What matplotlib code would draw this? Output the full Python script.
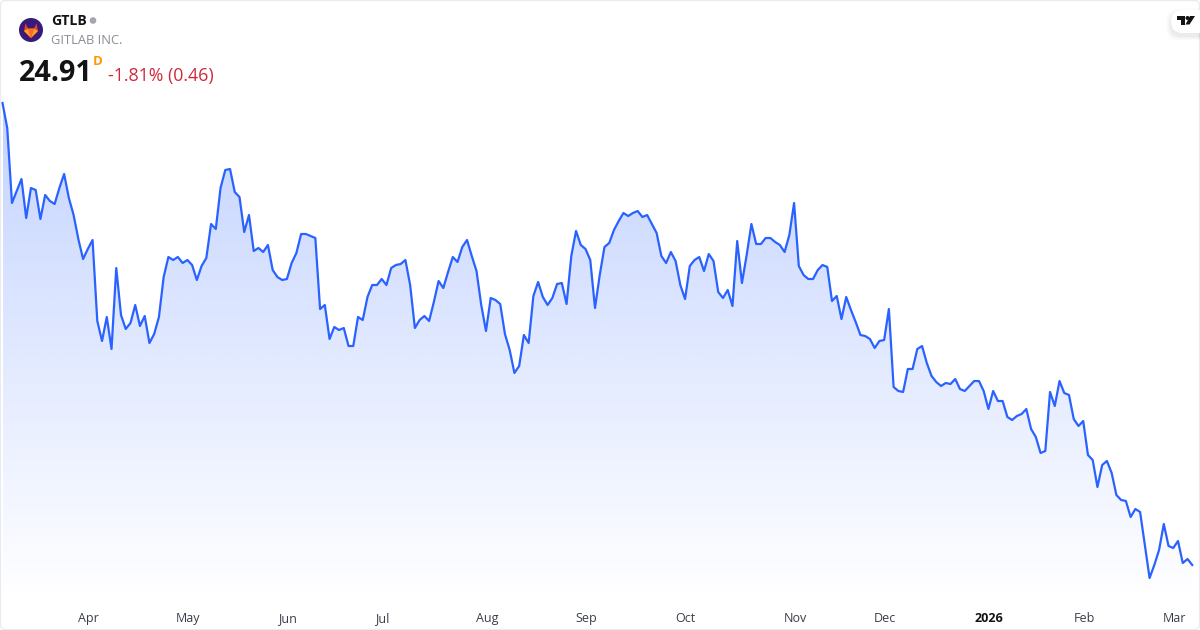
import numpy as np
import matplotlib
matplotlib.use("Agg")
import matplotlib.pyplot as plt
from matplotlib.patches import Circle, FancyBboxPatch, Polygon
from matplotlib.transforms import ScaledTranslation

# cours de cloture
closes = [
    61.87, 59.87, 53.87, 54.83, 55.79, 52.67, 55.07, 54.91, 52.59, 54.51, 54.03, 53.79, 55.07, 56.19, 54.27, 52.91,
    50.99, 49.39, 50.19, 50.91, 44.43, 42.83, 44.75, 42.19, 48.67, 44.91, 43.79, 44.27, 45.71, 44.03, 44.83, 42.67,
    43.39, 44.75, 47.95, 49.55, 49.31, 49.55, 49.07, 49.31, 48.91, 47.71, 48.83, 49.47, 52.19, 51.79, 55.07, 56.51,
    56.59, 54.75, 54.35, 51.55, 52.91, 50.03, 50.27, 49.95, 50.51, 48.51, 47.95, 47.71, 47.79, 49.07, 49.87, 51.39,
    51.39, 51.23, 51.07, 45.39, 45.71, 42.99, 43.95, 43.71, 43.87, 42.43, 42.43, 44.75, 44.51, 46.35, 47.31, 47.31,
    47.79, 47.31, 48.67, 48.91, 48.99, 49.31, 47.31, 43.87, 44.51, 44.83, 44.43, 45.95, 47.63, 47.07, 48.35, 49.55,
    49.15, 50.35, 50.91, 49.63, 48.43, 45.71, 43.63, 46.27, 46.11, 45.79, 43.39, 42.11, 40.27, 40.83, 43.31, 42.67,
    46.43, 47.55, 46.35, 45.71, 46.27, 47.39, 47.47, 45.79, 49.63, 51.63, 50.51, 50.19, 49.31, 45.47, 48.11, 50.35,
    50.67, 51.71, 52.43, 53.07, 52.83, 53.07, 53.23, 52.75, 52.91, 52.19, 51.47, 49.63, 49.07, 49.95, 49.23, 47.31,
    46.19, 48.83, 49.31, 49.55, 48.43, 49.79, 49.23, 46.75, 46.27, 46.91, 45.63, 50.83, 47.47, 49.71, 52.19, 50.59,
    50.59, 51.07, 51.07, 50.75, 50.51, 49.95, 51.31, 53.87, 48.83, 48.11, 47.79, 47.79, 48.51, 48.91, 48.75, 46.03,
    46.43, 44.59, 46.35, 45.31, 44.35, 43.31, 43.23, 42.99, 42.27, 42.83, 42.91, 45.39, 39.15, 38.83, 38.75, 40.59,
    40.59, 42.19, 42.43, 41.07, 40.03, 39.55, 39.23, 39.47, 39.39, 39.79, 38.99, 38.83, 39.23, 39.63, 39.63, 38.83,
    37.39, 38.83, 38.03, 38.03, 36.75, 36.51, 36.83, 36.99, 37.39, 35.79, 35.15, 33.87, 34.03, 38.75, 37.63, 39.63,
    38.67, 38.51, 36.59, 36.03, 36.43, 33.71, 33.31, 31.15, 32.91, 33.23, 32.27, 30.51, 30.11, 30.03, 28.75, 29.39,
    29.15, 26.51, 23.87, 24.91, 26.11, 28.19, 26.43, 26.27, 26.83, 25.07, 25.39, 24.91,
]
month_idx = [18, 39, 60, 80, 102, 123, 144, 167, 186, 208, 228, 247]
month_labels = ["Apr", "May", "Jun", "Jul", "Aug", "Sep", "Oct", "Nov", "Dec", "2026", "Feb", "Mar"]

FONT = "Open Sans"
BLUE = "#2962ff"
DARK = "#131315"

fig = plt.figure(figsize=(12, 6.3), dpi=100, facecolor="white")
ax = fig.add_axes([0, 0, 1, 1])

x = np.arange(len(closes))
y = np.array(closes)

# echelle : une seance = 4.74 px, un dollar = 12.5 px
base = 22.11

# degrade sous la courbe
grad = np.zeros((256, 2, 4))
grad[:, :, :3] = matplotlib.colors.to_rgb(BLUE)
grad[:, :, 3] = np.linspace(0.28, 0.0, 256)[:, None]
im = ax.imshow(grad, extent=[x[0], x[-1], base, y.max()], origin="upper", aspect="auto", zorder=1)
poly = ax.fill_between(x, y, base, color="none")
im.set_clip_path(poly.get_paths()[0], transform=ax.transData)
ax.set_xlim(-2.5 / 4.74, (1200 - 2.5) / 4.74)
ax.set_ylim(19.71, 70.11)

ax.plot(x, y, color=BLUE, lw=1.6, zorder=2, solid_joinstyle="round")

ax.set_yticks([])
ax.set_xticks(month_idx)
ax.set_xticklabels(month_labels, fontfamily=FONT, fontsize=9, color="#3a3e4a", va="baseline")
ax.get_xticklabels()[month_labels.index("2026")].set_fontweight("bold")
ax.get_xticklabels()[month_labels.index("2026")].set_color(DARK)
ax.tick_params(axis="x", length=0, pad=-6)
decale = ScaledTranslation(0.8 / 100, 0, fig.dpi_scale_trans)
for lab in ax.get_xticklabels():
    lab.set_transform(lab.get_transform() + decale)
for s in ax.spines.values():
    s.set_visible(False)

# en-tete et decor, en pixels
deco = fig.add_axes([0, 0, 1, 1], zorder=5)
deco.set_xlim(0, 1200)
deco.set_ylim(630, 0)
deco.axis("off")
deco.patch.set_alpha(0)

deco.add_patch(FancyBboxPatch((0.5, 0.5), 1199, 629, boxstyle="round,pad=0,rounding_size=5",
                              fc="none", ec="#e9ebf0", lw=0.9))

# logo
deco.add_patch(Circle((31, 30), 12, fc="#3a1a78", ec="none"))
deco.add_patch(Polygon([(24, 31), (25.5, 23.5), (28, 28.5), (34, 28.5), (36.5, 23.5), (38, 31), (31, 38)],
                       fc="#e24329", ec="none"))
deco.add_patch(Polygon([(24, 31), (28, 28.5), (31, 38)], fc="#fca326", ec="none"))
deco.add_patch(Polygon([(38, 31), (34, 28.5), (31, 38)], fc="#fca326", ec="none"))
deco.add_patch(Polygon([(28, 28.5), (34, 28.5), (31, 38)], fc="#fc6d26", ec="none"))

deco.text(51, 21, "GTLB", fontfamily=FONT, fontweight="bold", fontsize=10.2, color=DARK, va="center")
deco.add_patch(Circle((93, 20.5), 3.3, fc="#a3a6af", ec="none"))
deco.text(51, 41, "GITLAB INC.", fontfamily=FONT, fontsize=9.3, color="#8a8d96", va="center")
deco.text(19, 73.5, "24.91", fontfamily=FONT, fontweight="bold", fontsize=20.7, color=DARK, va="center")
deco.text(93, 61.5, "D", fontfamily=FONT, fontweight="bold", fontsize=9.5, color="#ff9800", va="center")
deco.text(108, 76.5, "-1.81% (0.46)", fontfamily=FONT, fontsize=12.8, color="#d0293c", va="center")

# logo TradingView dans sa pastille, ombre douce vers le bas
for grow, a in [(5, 0.008), (4, 0.012), (3, 0.016), (2, 0.02), (1, 0.025)]:
    deco.add_patch(FancyBboxPatch((1171 - grow, 13 - grow), 40 + grow, 23 + 2 * grow,
                                  boxstyle="round,pad=0,rounding_size=12", fc="black", alpha=a, ec="none"))
deco.add_patch(FancyBboxPatch((1171, 10), 40, 23, boxstyle="round,pad=0,rounding_size=11.5", fc="white", ec="none"))
deco.add_patch(Polygon([(1176.5, 16), (1185, 16), (1185, 24.5), (1181, 24.5), (1181, 20), (1176.5, 20)],
                       fc=DARK, ec="none"))
deco.add_patch(Circle((1187.5, 18), 2, fc=DARK, ec="none"))
deco.add_patch(Polygon([(1190, 16), (1195, 16), (1189.5, 24.5), (1185.5, 24.5)], fc=DARK, ec="none"))

fig.savefig("out.png", dpi=100)
